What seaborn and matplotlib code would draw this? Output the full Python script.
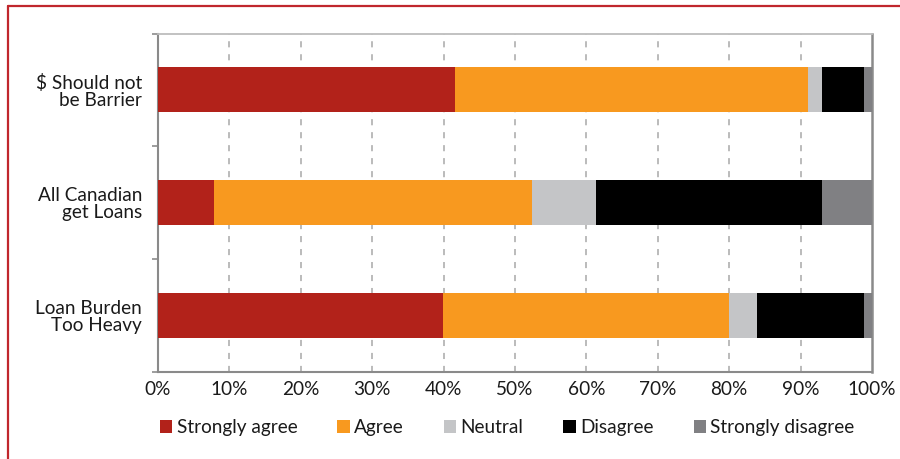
import numpy as np
import pandas as pd
import matplotlib
matplotlib.use("Agg")
import matplotlib.pyplot as plt
from matplotlib.lines import Line2D
from matplotlib.patches import Patch
from matplotlib.ticker import FixedLocator, PercentFormatter
import seaborn as sns

# ---- data ----
categories = ["$ Should not\nbe Barrier", "All Canadian\nget Loans", "Loan Burden\nToo Heavy"]
series_names = ["Strongly agree", "Agree", "Neutral", "Disagree", "Strongly disagree"]
strongly_agree = [41.6, 7.9, 39.9]
agree = [49.4, 44.5, 40.1]
neutral = [2.0, 9.0, 3.9]
disagree = [5.9, 31.6, 15.0]
strongly_disagree = [1.1, 7.0, 1.1]
x_ticks = [0, 10, 20, 30, 40, 50, 60, 70, 80, 90, 100]

colors = ["#B2221A", "#F8991F", "#C4C5C7", "#000000", "#808083"]

sns.set_theme(style="white")
plt.rcParams["font.family"] = ["Lato", "DejaVu Sans"]

FS = 13.7

series = [strongly_agree, agree, neutral, disagree, strongly_disagree]
cum = np.cumsum(np.array(series), axis=0)

fig = plt.figure(figsize=(9, 4.59), dpi=100)
ax = fig.add_axes([158 / 900, 1 - 371.7 / 459, (872 - 158) / 900, (371.7 - 33.5) / 459])

# gridlines behind bars
ax.set_axisbelow(True)
for xv in x_ticks[1:-1]:
    ax.axvline(xv, color="#a8a8a8", lw=1.1, ls=(0, (4, 4.5)), zorder=0)

# stacked horizontal bars: overlay cumulative totals from largest to smallest
for i in range(len(series) - 1, -1, -1):
    df = pd.DataFrame({"category": categories, "value": cum[i]})
    sns.barplot(data=df, x="value", y="category", orient="h", color=colors[i],
                width=0.4, saturation=1, ax=ax, linewidth=0, zorder=2 + (len(series) - i))

ax.set_xlim(0, 100)
ax.set_ylim(2.5, -0.5)
ax.set_xlabel("")
ax.set_ylabel("")
ax.xaxis.set_major_locator(FixedLocator(x_ticks))
ax.xaxis.set_major_formatter(PercentFormatter(decimals=0))
ax.tick_params(axis="x", length=0, pad=7, labelsize=FS, colors="#1a1a1a")
ax.tick_params(axis="y", which="major", length=0, pad=11.5, labelsize=FS, colors="#1a1a1a")
for lab in ax.get_yticklabels():
    lab.set_multialignment("right")
    lab.set_linespacing(1.0)
ax.yaxis.set_minor_locator(FixedLocator([-0.5, 0.5, 1.5, 2.5]))
ax.tick_params(axis="y", which="minor", length=4, width=1.2, color="#8c8c8c", left=True)

for side in ["left", "bottom"]:
    ax.spines[side].set_color("#8a8a8a")
    ax.spines[side].set_linewidth(1.5)
ax.spines["right"].set_color("#8a8a8a")
ax.spines["right"].set_linewidth(1.8)
ax.spines["top"].set_color("#bdbdbd")
ax.spines["top"].set_linewidth(1.3)

# legend
handles = [Patch(facecolor=c, edgecolor="none") for c in colors]
fig.legend(handles, series_names, loc="center left", bbox_to_anchor=(160 / 900, 1 - 427.5 / 459),
           ncol=5, frameon=False, fontsize=FS, handlelength=0.64, handleheight=0.64,
           handletextpad=0.24, columnspacing=2.1, borderpad=0, borderaxespad=0,
           labelcolor="#1a1a1a")

# red frame
fig.add_artist(Line2D([8 / 900, 1.0], [1 - 6 / 459, 1 - 6 / 459], color="#C0272D", lw=1.6,
                      transform=fig.transFigure))
fig.add_artist(Line2D([8 / 900, 8 / 900], [0, 1 - 6 / 459], color="#C0272D", lw=1.6,
                      transform=fig.transFigure))

fig.savefig("out.png", dpi=100)
